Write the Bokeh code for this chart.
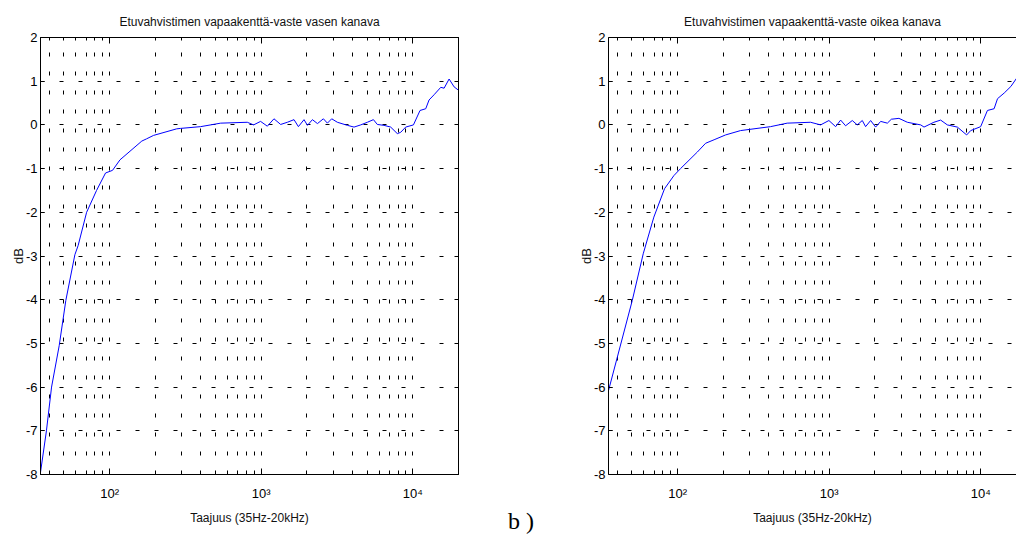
from bokeh.plotting import figure
from bokeh.models import Range1d, LogAxis, LinearAxis, FixedTicker, Div
from bokeh.layouts import row
from bokeh.embed import file_html
from bokeh.resources import INLINE

# ---- data ----
left_freq = [35, 38.3, 41.4, 46.5, 51.4, 59, 62, 70.5, 82, 94, 104.5, 117, 163, 175, 195,
             277, 294, 398, 540, 809, 890, 990, 1097, 1213, 1343, 1487, 1645, 1758, 1915,
             2017, 2175, 2348, 2570, 2731, 2916, 3178, 3700, 4094, 4530, 5010, 5494, 5830,
             6450, 7140, 7900, 8310, 8970, 10090, 11150, 12160, 12790, 13800, 15280, 16070,
             17340, 18710, 19900]
left_db = [-7.95, -7.0, -6.0, -5.05, -4.02, -2.97, -2.76, -2.0, -1.5, -1.1, -1.04, -0.8, -0.37,
           -0.32, -0.24, -0.09, -0.08, -0.04, 0.04, 0.06, 0.0, 0.08, -0.03, 0.14, 0.01, 0.06,
           0.12, -0.04, 0.12, -0.01, 0.12, 0.03, 0.14, 0.04, 0.14, 0.06, -0.01, -0.05, 0.0,
           0.06, 0.12, 0.01, -0.01, -0.05, -0.2, -0.17, -0.05, 0.0, 0.33, 0.37, 0.57, 0.69,
           0.86, 0.84, 1.05, 0.87, 0.8]

right_freq = [35, 50.2, 59.3, 69.7, 82, 94.5, 104.5, 135, 153, 174, 207, 260, 410, 528, 753,
              877, 995, 1102, 1189, 1282, 1419, 1530, 1652, 1737, 1875, 2023, 2184, 2417, 2568,
              2882, 3275, 4011, 4218, 4900, 5430, 6010, 7000, 8060, 8570, 9970, 11050, 12230,
              12880, 14260, 15780, 17300]
right_db = [-6.08, -4.02, -2.95, -2.11, -1.46, -1.16, -1.0, -0.62, -0.42, -0.34, -0.23, -0.13,
            -0.04, 0.04, 0.06, 0.0, 0.1, -0.04, 0.11, -0.02, 0.1, 0.0, 0.1, -0.04, 0.1, -0.05,
            0.08, 0.04, 0.13, 0.15, 0.06, 0.0, -0.05, 0.06, 0.11, 0.0, -0.05, -0.23, -0.13,
            -0.04, 0.33, 0.37, 0.6, 0.73, 0.88, 1.08]

x_major_ticks = [100, 1000, 10000]
x_major_labels = ["10²", "10³", "10⁴"]
x_minor_ticks = [40, 50, 60, 70, 80, 90, 200, 300, 400, 500, 600, 700, 800, 900,
                 2000, 3000, 4000, 5000, 6000, 7000, 8000, 9000]
y_ticks = [-8, -7, -6, -5, -4, -3, -2, -1, 0, 1, 2]
y_tick_labels = ["-8", "-7", "-6", "-5", "-4", "-3", "-2", "-1", "0", "1", "2"]

title_left = "Etuvahvistimen vapaakenttä-vaste vasen kanava"
title_right = "Etuvahvistimen vapaakenttä-vaste oikea kanava"
x_label = "Taajuus (35Hz-20kHz)"
y_label = "dB"
panel_tag = "b )"

X_MIN, X_MAX = 35, 20000
Y_MIN, Y_MAX = -8, 2

FONT = "Liberation Sans"
H = 540
TOP = 37
FRAME_H = 437


def style_axis(ax, labels=True):
    ax.axis_line_color = "black"
    ax.axis_line_width = 1
    ax.major_tick_line_color = "black"
    ax.minor_tick_line_color = "black"
    ax.major_tick_out = 0
    ax.minor_tick_out = 0
    if not labels:
        ax.major_label_text_font_size = "1px"
        ax.major_label_text_color = None
        ax.major_label_standoff = 0


def build(title, freq, db, width, bl, br, x_end, right_axis, outline):
    p = figure(width=width, height=H, x_axis_type="log",
               x_range=Range1d(X_MIN, x_end), y_range=Range1d(Y_MIN, Y_MAX),
               output_backend="svg", toolbar_location=None,
               min_border_left=bl, min_border_right=br,
               min_border_top=TOP, min_border_bottom=H - TOP - FRAME_H,
               title=title)
    p.background_fill_color = "white"
    p.border_fill_color = "white"
    p.outline_line_color = "black" if outline else None
    p.outline_line_width = 1

    p.title.align = "center"
    p.title.text_font = FONT
    p.title.text_font_size = "12px"
    p.title.text_font_style = "normal"
    p.title.text_color = "#111111"
    p.title.standoff = 17

    xt = FixedTicker(ticks=x_major_ticks, minor_ticks=x_minor_ticks)
    yt = FixedTicker(ticks=y_ticks, minor_ticks=[])

    xa = p.xaxis[0]
    xa.ticker = xt
    style_axis(xa)
    xa.major_tick_in = 6
    xa.minor_tick_in = 3
    xa.major_label_overrides = {t: s for t, s in zip(x_major_ticks, x_major_labels)}
    xa.major_label_text_font = FONT
    xa.major_label_text_font_size = "13px"
    xa.major_label_text_color = "black"
    xa.major_label_standoff = 11
    xa.axis_label = x_label
    xa.axis_label_text_font = FONT
    xa.axis_label_text_font_size = "12px"
    xa.axis_label_text_font_style = "normal"
    xa.axis_label_text_color = "#111111"
    xa.axis_label_standoff = 7

    ya = p.yaxis[0]
    ya.ticker = yt
    style_axis(ya)
    ya.major_tick_in = 4
    ya.minor_tick_in = 0
    ya.major_label_overrides = {t: s for t, s in zip(y_ticks, y_tick_labels)}
    ya.major_label_text_font = FONT
    ya.major_label_text_font_size = "13px"
    ya.major_label_text_color = "black"
    ya.major_label_standoff = 3
    ya.axis_label = y_label
    ya.axis_label_text_font = FONT
    ya.axis_label_text_font_size = "13px"
    ya.axis_label_text_font_style = "normal"
    ya.axis_label_text_color = "#111111"
    ya.axis_label_standoff = -3

    top = LogAxis(ticker=FixedTicker(ticks=x_major_ticks, minor_ticks=x_minor_ticks))
    style_axis(top, labels=False)
    top.major_tick_in = 6
    top.minor_tick_in = 3
    p.add_layout(top, "above")

    if right_axis:
        ra = LinearAxis(ticker=FixedTicker(ticks=y_ticks, minor_ticks=[]))
        style_axis(ra, labels=False)
        ra.major_tick_in = 4
        ra.minor_tick_in = 0
        p.add_layout(ra, "right")

    p.xgrid.ticker = xt
    p.xgrid.grid_line_color = "black"
    p.xgrid.grid_line_dash = "4 15"
    p.xgrid.grid_line_width = 1
    p.xgrid.minor_grid_line_color = "black"
    p.xgrid.minor_grid_line_dash = "4 15"
    p.xgrid.minor_grid_line_width = 1
    p.ygrid.ticker = yt
    p.ygrid.grid_line_color = "black"
    p.ygrid.grid_line_dash = "4 15"
    p.ygrid.grid_line_width = 1

    p.line(freq, db, line_color="#0000ff", line_width=1)
    return p


LEFT_W = 490          # page x 0 .. 490
LEFT_BL, LEFT_BR = 40, 32
TAG_W = 50            # page x 490 .. 540
RIGHT_W = 476         # page x 540 .. 1016
RIGHT_BL, RIGHT_BR = 68, 0

left_frame = LEFT_W - LEFT_BL - LEFT_BR
right_frame = RIGHT_W - RIGHT_BL - RIGHT_BR
# same decade width in both panels; the right panel is cut off by the page edge
right_x_end = X_MIN * (X_MAX / X_MIN) ** (right_frame / left_frame)

p1 = build(title_left, left_freq, left_db, LEFT_W, LEFT_BL, LEFT_BR, X_MAX, True, True)
p2 = build(title_right, right_freq, right_db, RIGHT_W, RIGHT_BL, RIGHT_BR, right_x_end, False, False)

tag = Div(text=('<div style="margin-top:507px;margin-left:18px;font-family:\'Liberation Serif\';'
                'font-size:24px;color:black;white-space:nowrap;line-height:28px">'
                + panel_tag + '</div>'),
          width=TAG_W, height=H, margin=0)

layout = row(p1, tag, p2, spacing=0)
open("out.html", "w").write(file_html(layout, INLINE))
